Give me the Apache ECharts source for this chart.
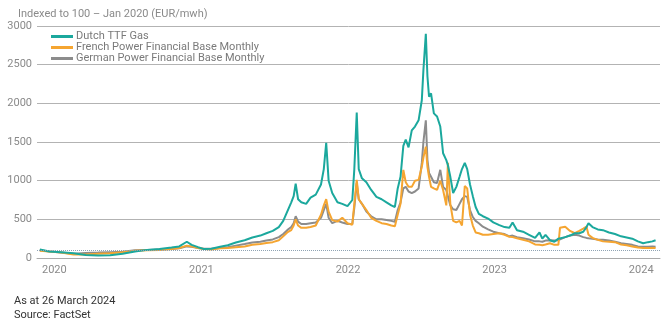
<!DOCTYPE html>
<html>
<head>
<meta charset="utf-8">
<script src="https://cdn.jsdelivr.net/npm/echarts@6/dist/echarts.min.js"></script>
<style>
html,body{margin:0;padding:0;background:#fff;}
#c{width:668px;height:321px;}
</style>
</head>
<body>
<div id="c"></div>
<script>
const dates = [
'2020-01-08','2020-02-01','2020-03-01','2020-04-01','2020-05-01','2020-06-01','2020-07-01','2020-08-01','2020-09-01','2020-10-01','2020-11-01','2020-12-01','2020-12-20',
'2021-01-08','2021-01-20','2021-02-05','2021-02-20','2021-03-10','2021-04-01','2021-04-20','2021-05-10','2021-06-01','2021-06-20','2021-07-10','2021-07-25','2021-08-10','2021-08-25',
'2021-09-05','2021-09-15','2021-09-25','2021-10-01','2021-10-06','2021-10-12','2021-10-20','2021-11-01','2021-11-12','2021-11-25','2021-12-08','2021-12-15','2021-12-21','2021-12-27',
'2022-01-05','2022-01-18','2022-01-30','2022-02-12','2022-02-24','2022-03-01','2022-03-07','2022-03-12','2022-03-20','2022-03-31','2022-04-12','2022-04-25','2022-05-08','2022-05-20',
'2022-06-01','2022-06-10','2022-06-17','2022-06-24','2022-07-01','2022-07-07','2022-07-14','2022-07-22','2022-07-30','2022-08-08','2022-08-16','2022-08-20','2022-08-26','2022-08-30',
'2022-09-03','2022-09-08','2022-09-15','2022-09-23','2022-10-01','2022-10-08','2022-10-16','2022-10-20','2022-10-26','2022-11-02','2022-11-10','2022-11-18','2022-11-24','2022-12-01',
'2022-12-07','2022-12-14','2022-12-21','2022-12-28','2023-01-05','2023-01-15','2023-01-28','2023-02-10','2023-02-25','2023-03-10','2023-03-22','2023-03-30','2023-04-10','2023-04-25',
'2023-05-10','2023-05-25','2023-06-05','2023-06-12','2023-06-20','2023-07-01','2023-07-12','2023-07-22','2023-07-26','2023-08-08','2023-08-20','2023-09-01','2023-09-12','2023-09-22',
'2023-09-30','2023-10-05','2023-10-15','2023-10-28','2023-11-10','2023-11-25','2023-12-10','2023-12-25','2024-01-08','2024-01-22','2024-02-05','2024-02-18','2024-03-01','2024-03-12','2024-03-20'
];
const ttf = [
110,85,75,60,40,32,35,55,85,105,115,135,150,
210,170,140,115,120,145,165,200,230,265,290,320,350,400,
480,600,720,800,960,760,720,700,780,820,950,1150,1490,1000,
840,720,700,670,750,1150,1880,1150,1030,980,880,790,760,720,
680,660,900,1050,1450,1530,1430,1650,1700,1780,2040,2430,2900,2350,
2085,2130,1870,1830,1700,1355,1265,1200,1050,840,920,1050,1150,1230,
1150,950,800,660,570,540,510,460,425,400,390,460,360,340,
300,260,330,250,300,230,210,250,235,270,290,320,320,340,
400,450,400,370,360,330,310,280,265,250,215,190,205,215,230
];
const french = [
95,85,70,45,45,55,60,75,95,100,105,115,130,
160,150,130,115,110,125,130,140,150,170,180,195,205,230,
280,330,360,420,500,420,390,390,400,420,560,680,760,600,
490,470,520,450,430,700,1010,760,700,620,520,480,450,440,
420,410,560,700,1140,980,920,920,1000,1010,1180,1300,1440,1180,
1050,920,900,880,1000,880,680,1230,700,480,460,480,420,930,
900,560,420,330,320,300,300,310,320,300,275,270,255,235,
215,175,170,165,175,190,170,170,390,405,350,320,350,380,
405,300,260,235,215,210,205,175,165,150,135,130,130,130,130
];
const german = [
100,85,70,55,65,70,75,80,100,105,110,115,125,
150,145,130,120,120,130,140,160,180,200,210,225,240,270,
310,360,400,450,540,470,440,440,450,460,520,620,700,520,
450,480,460,440,440,650,970,760,700,600,540,500,500,490,
480,470,620,720,900,920,860,840,860,900,1230,1500,1780,1270,
1100,1050,980,970,1140,920,880,800,680,630,620,700,760,800,
790,620,530,480,450,405,370,340,320,310,280,290,270,255,
240,215,215,210,225,230,225,230,235,270,290,300,290,270,
260,255,250,240,235,225,210,190,180,170,150,145,145,150,145
];
const seriesNames = ['Dutch TTF Gas','French Power Financial Base Monthly','German Power Financial Base Monthly'];

const toPairs = vals => dates.map((d,i)=>[d, vals[i]]);
const font = 'Roboto, "Liberation Sans", sans-serif';
const chart = echarts.init(document.getElementById('c'), null, {renderer:'canvas'});
chart.setOption({
  animation:false,
  textStyle:{fontFamily:font},
  title:[
    {text:'Indexed to 100 \u2013 Jan 2020 (EUR/mwh)', left:13, top:4, textStyle:{fontSize:11, fontWeight:'normal', color:'#8a8a8a', fontFamily:font}},
    {text:'As at 26 March 2024', left:9, top:291, textStyle:{fontSize:11, fontWeight:'normal', color:'#333', fontFamily:font}},
    {text:'Source: FactSet', left:9, top:305, textStyle:{fontSize:11, fontWeight:'normal', color:'#333', fontFamily:font}}
  ],
  legend:{
    data:seriesNames, orient:'vertical', left:46, top:29, itemGap:0, padding:[2,5,2,5],
    itemWidth:22, itemHeight:3, icon:'rect',
    textStyle:{fontSize:11, color:'#7a7a7a', fontFamily:font, padding:[0,0,0,-2], lineHeight:11}
  },
  grid:{left:37, right:8, top:26, bottom:63},
  xAxis:{
    type:'time', min:'2020-01-01', max:'2024-03-31',
    splitNumber:4, minInterval:360*86400000,
    axisLine:{show:true, lineStyle:{color:'#aaa', width:1}},
    axisTick:{show:false},
    splitLine:{show:false},
    axisLabel:{
      formatter: v => String(new Date(v).getFullYear()),
      align:'left', padding:[0,0,0,5], margin:7,
      showMinLabel:true, showMaxLabel:false,
      fontSize:11, color:'#8a8a8a', fontFamily:font, hideOverlap:false
    }
  },
  yAxis:{
    type:'value', min:0, max:3000, interval:500,
    axisLine:{show:false}, axisTick:{show:false},
    splitLine:{lineStyle:{color:'#b3b3b3', width:1}},
    axisLabel:{formatter: v => String(v), fontSize:11, color:'#8a8a8a', fontFamily:font, margin:5}
  },
  series:[
    {name:seriesNames[0], type:'line', data:toPairs(ttf), showSymbol:false, z:4,
     lineStyle:{color:'#1ba89d', width:2}, itemStyle:{color:'#1ba89d'},
     markLine:{silent:true, symbol:['none','none'], label:{show:false},
       lineStyle:{color:'#8fa3b3', type:'dotted', width:1}, data:[{yAxis:100}]}},
    {name:seriesNames[1], type:'line', data:toPairs(french), showSymbol:false, z:3,
     lineStyle:{color:'#f5a531', width:2}, itemStyle:{color:'#f5a531'}},
    {name:seriesNames[2], type:'line', data:toPairs(german), showSymbol:false, z:2,
     lineStyle:{color:'#8c8c8c', width:2}, itemStyle:{color:'#8c8c8c'}}
  ]
});
</script>
</body>
</html>
